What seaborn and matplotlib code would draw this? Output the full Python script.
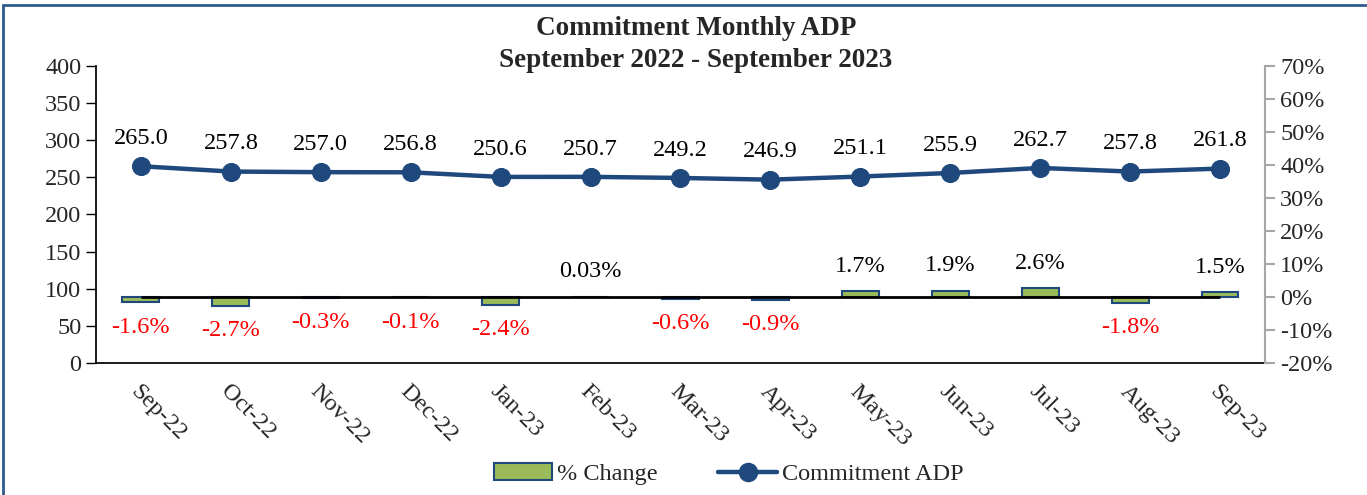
"""Commitment Monthly ADP, Sep 2022 - Sep 2023: ADP line with % change bars."""

import matplotlib.pyplot as plt
import pandas as pd
import seaborn as sns
from matplotlib.lines import Line2D
from matplotlib.patches import Patch, Rectangle
from matplotlib.ticker import FuncFormatter

months = ["Sep-22", "Oct-22", "Nov-22", "Dec-22", "Jan-23", "Feb-23", "Mar-23",
          "Apr-23", "May-23", "Jun-23", "Jul-23", "Aug-23", "Sep-23"]
adp = [265.0, 257.8, 257.0, 256.8, 250.6, 250.7, 249.2, 246.9, 251.1, 255.9, 262.7, 257.8, 261.8]
pct_change = [-1.6, -2.7, -0.3, -0.1, -2.4, 0.03, -0.6, -0.9, 1.7, 1.9, 2.6, -1.8, 1.5]

NAVY = "#1F497D"
GREEN = "#9BBB59"
FS = 17.5

sns.set_theme(style="white")
plt.rcParams["font.family"] = ["Liberation Serif", "DejaVu Serif"]
plt.rcParams["axes.unicode_minus"] = False

df = pd.DataFrame({"month": months, "adp": adp, "pct": pct_change})
df["pos"] = range(len(df))

fig = plt.figure(figsize=(13.67, 4.95), dpi=100)
ax = fig.add_axes([0.0702, 0.2667, 0.8552, 0.6])
ax2 = ax.twinx()

# % change bars on the right axis
sns.barplot(data=df, x="pos", y="pct", ax=ax2, color=GREEN, saturation=1,
            width=0.41, edgecolor=NAVY, linewidth=1.5, native_scale=True)
ax2.hlines(0, df["pos"].iloc[0], df["pos"].iloc[-1], color="black", linewidth=2, zorder=5)

# ADP line on the left axis
sns.lineplot(data=df, x="pos", y="adp", ax=ax, color=NAVY, linewidth=3.2,
             marker="o", markersize=13, markeredgecolor=NAVY)

for p, v in zip(df["pos"], df["adp"]):
    ax.annotate(f"{v:.1f}", (p, v), xytext=(0, 20), textcoords="offset points",
                ha="center", va="center", fontsize=FS, color="black")

for p, v in zip(df["pos"], df["pct"]):
    txt = f"{v:.2f}%" if abs(v) < 0.1 and v > 0 else f"{v:.1f}%"
    off = 18 if v > 0 else -18
    ax2.annotate(txt, (p, v), xytext=(0, off), textcoords="offset points",
                 ha="center", va="center", fontsize=FS,
                 color="black" if v > 0 else "#FF0000")

ax.set_xlim(-0.5, len(months) - 0.5)
ax.set_ylim(0, 400)
ax.set_yticks(range(0, 401, 50))
ax2.set_ylim(-20, 70)
ax2.set_yticks(range(-20, 71, 10))
ax2.yaxis.set_major_formatter(FuncFormatter(lambda v, _: f"{v:.0f}%"))
ax2.set_xlim(-0.5, len(months) - 0.5)

# category labels at centers, tick marks at boundaries
ax.set_xticks([i - 0.5 for i in range(len(months) + 1)])
ax.set_xticklabels([])
ax.set_xticks(range(len(months)), minor=True)
ax.set_xticklabels(months, minor=True, rotation=-45, ha="left", va="top",
                   rotation_mode="anchor", fontsize=FS)
ax.tick_params(axis="x", which="minor", length=0, pad=13)
ax.tick_params(axis="x", which="major", direction="out", length=7, width=1, color="black", bottom=True)
ax.tick_params(axis="y", direction="out", length=7, width=1, color="black", left=True, labelsize=FS)
ax2.tick_params(axis="y", direction="out", length=7, width=1.5, color="#A6A6A6", right=True,
                labelsize=FS, pad=4)

ax.set_xlabel("")
ax.set_ylabel("")
ax2.set_xlabel("")
ax2.set_ylabel("")
ax2.set_xticks([])

for a in (ax, ax2):
    a.spines["top"].set_visible(False)
    a.grid(False)
ax.spines["right"].set_visible(False)
ax.spines["left"].set_color("black")
ax.spines["bottom"].set_color("black")
ax2.spines["left"].set_visible(False)
ax2.spines["bottom"].set_visible(False)
ax2.spines["right"].set_color("#A6A6A6")
ax2.spines["right"].set_linewidth(1.5)

fig.text(0.509, 0.943, "Commitment Monthly ADP", ha="center", va="center",
         fontsize=19.5, fontweight="bold")
fig.text(0.509, 0.877, "September 2022 - September 2023", ha="center", va="center",
         fontsize=19.5, fontweight="bold")

handles = [
    Patch(facecolor=GREEN, edgecolor=NAVY, linewidth=1.5, label="% Change"),
    Line2D([], [], color=NAVY, linewidth=3.2, marker="o", markersize=13, label="Commitment ADP"),
]
fig.legend(handles=handles, loc="center", bbox_to_anchor=(0.533, 0.042), ncol=2,
           frameon=False, fontsize=FS, handlelength=2.4, handletextpad=0.2, columnspacing=2.5)

fig.patches.append(Rectangle((0.0025, -0.05), 1.2, 1.04, transform=fig.transFigure,
                             fill=False, edgecolor="#2F5A8C", linewidth=2))

fig.savefig("out.png", dpi=100)
